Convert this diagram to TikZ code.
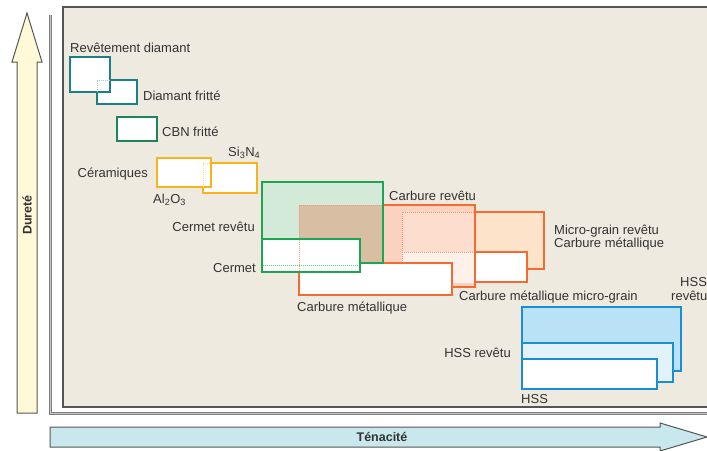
\documentclass[tikz,border=0pt]{standalone}
\usepackage{fontspec}
\setmainfont{Liberation Sans}
\definecolor{txt}{HTML}{333333}
\definecolor{panel}{HTML}{EEEAE0}
\definecolor{frame}{HTML}{555555}
\definecolor{lgray}{HTML}{7E7E7E}
\definecolor{yel}{HTML}{FFF9D8}
\definecolor{cyanfill}{HTML}{C9E8EE}
\definecolor{tealc}{HTML}{1B7F87}
\definecolor{cbn}{HTML}{1E8559}
\definecolor{ceram}{HTML}{F7B41C}
\definecolor{cgreen}{HTML}{1DA54F}
\definecolor{cgfill}{HTML}{D3EAD8}
\definecolor{brownov}{HTML}{D8BFA3}
\definecolor{orng}{HTML}{F36A33}
\definecolor{salmon}{HTML}{FBD2C0}
\definecolor{salmonlt}{HTML}{FCDDCE}
\definecolor{salmonvlt}{HTML}{FDF1EA}
\definecolor{peach}{HTML}{FDE3C9}
\definecolor{blu}{HTML}{1A8ED2}
\definecolor{bluA}{HTML}{B9E2F7}
\definecolor{bluB}{HTML}{E1F2FB}
\begin{document}
\begin{tikzpicture}[x=1pt,y=-1pt,
  lbl/.style={inner sep=0pt, font=\fontsize{13}{15}\selectfont, text=txt},
  boldlbl/.style={inner sep=0pt, font=\fontsize{12.5}{14}\selectfont\bfseries, text=txt},
  bx/.style={line width=2.5pt},
  dots/.style={line width=0.8pt, dash pattern=on 1pt off 1pt}]
\useasboundingbox (0,0) rectangle (707,450);
% panel and L frame
\draw[line width=1.5pt, draw=frame, fill=panel] (63,7) rectangle (720,407);
\draw[line width=3pt, draw=lgray] (50,15) -- (50,413) -- (720,413);
\draw[line width=0.7pt, draw=gray!45] (50,15) -- (50,413) -- (720,413);
% axis arrows
\draw[fill=yel, draw=frame, line width=1pt] (17,413) -- (17,62) -- (12,62) -- (27,13) -- (42,62) -- (37,62) -- (37,413) -- cycle;
\node[boldlbl, rotate=90] (durete) at (27,215) {Dureté};
\draw[fill=cyanfill, draw=frame, line width=1pt] (50,427) -- (660,427) -- (660,423) -- (707,437) -- (660,451) -- (660,447) -- (50,447) -- cycle;
\node[boldlbl] (tenacite) at (382,437) {Ténacité};
% diamond
\draw[bx, draw=tealc, fill=white] (97,80) rectangle (137,104);
\draw[bx, draw=tealc, fill=white] (70,57) rectangle (110,92);
\draw[dots, draw=tealc!40] (97,92) -- (97,80) -- (110,80);
\node[lbl, anchor=west] (revdiam) at (70,48) {Revêtement diamant};
\node[lbl, anchor=west] (diamfr) at (143,96) {Diamant fritté};
% CBN
\draw[bx, draw=cbn, fill=white] (117,117) rectangle (157,141);
\node[lbl, anchor=west] (cbn) at (162,132) {CBN fritté};
% ceramics
\draw[bx, draw=ceram, fill=white] (203,163) rectangle (257,193);
\draw[bx, draw=ceram, fill=white] (157,158) rectangle (211,187);
\draw[dots, draw=ceram!50] (203,187) -- (203,163) -- (211,163);
\node[lbl, anchor=east] (ceramiques) at (148,174) {Céramiques};
\node[lbl, anchor=west] (si3n4) at (228,153) {Si\textsubscript{3}N\textsubscript{4}};
\node[lbl, anchor=west] (al2o3) at (153,200) {Al\textsubscript{2}O\textsubscript{3}};
% micro-grain
\draw[bx, draw=orng, fill=peach] (402,212) rectangle (544,269);
\draw[bx, draw=orng, fill=white] (402,252) rectangle (527,282);
% carbure revetu
\fill[salmon] (299,205) rectangle (475,287);
\fill[salmonlt] (402,212) rectangle (475,252);
\fill[salmonvlt] (402,252) rectangle (475,283);
\draw[dots, draw=orng!70] (402,283) -- (402,212) -- (475,212);
\draw[dots, draw=orng!70] (402,252) -- (475,252);
\draw[bx, draw=orng] (299,205) rectangle (475,287);
% carbure metallique
\draw[bx, draw=orng, fill=white] (299,263) rectangle (452,295);
% cermet revetu
\fill[cgfill] (262,182) rectangle (383,263);
\fill[brownov] (299,205) rectangle (383,263);
\draw[dots, draw=orng!70] (299,263) -- (299,205) -- (383,205);
\draw[bx, draw=cgreen] (262,182) rectangle (383,263);
% cermet
\draw[bx, draw=cgreen, fill=white] (262,239) rectangle (360,272);
\draw[dots, draw=cgreen!70] (263,265) -- (359,265);
\draw[dots, draw=orng!70] (299,240) -- (299,271);
\node[lbl, anchor=east] (cermetrev) at (255,227) {Cermet revêtu};
\node[lbl, anchor=east] (cermet) at (256,268) {Cermet};
\node[lbl, anchor=west] (carbmet) at (297,308) {Carbure métallique};
\node[lbl, anchor=west] (carbrev) at (389,196) {Carbure revêtu};
\node[lbl, anchor=west] (mgrev) at (554,231) {Micro-grain revêtu};
\node[lbl, anchor=west] (mgcarb) at (554,244) {Carbure métallique};
\node[lbl, anchor=west] (carbmg) at (459,297) {Carbure métallique micro-grain};
% HSS
\draw[bx, draw=blu, fill=bluA] (522,307) rectangle (681,371);
\draw[bx, draw=blu, fill=bluB] (522,343) rectangle (673,382);
\draw[bx, draw=blu, fill=white] (522,359) rectangle (657,389);
\node[lbl, anchor=west] (hsstop) at (680,282) {HSS};
\node[lbl, anchor=west] (revtop) at (671,296) {revêtu};
\node[lbl, anchor=east] (hssrev) at (511,353) {HSS revêtu};
\node[lbl, anchor=west] (hss) at (521,399) {HSS};
\end{tikzpicture}
\end{document}
